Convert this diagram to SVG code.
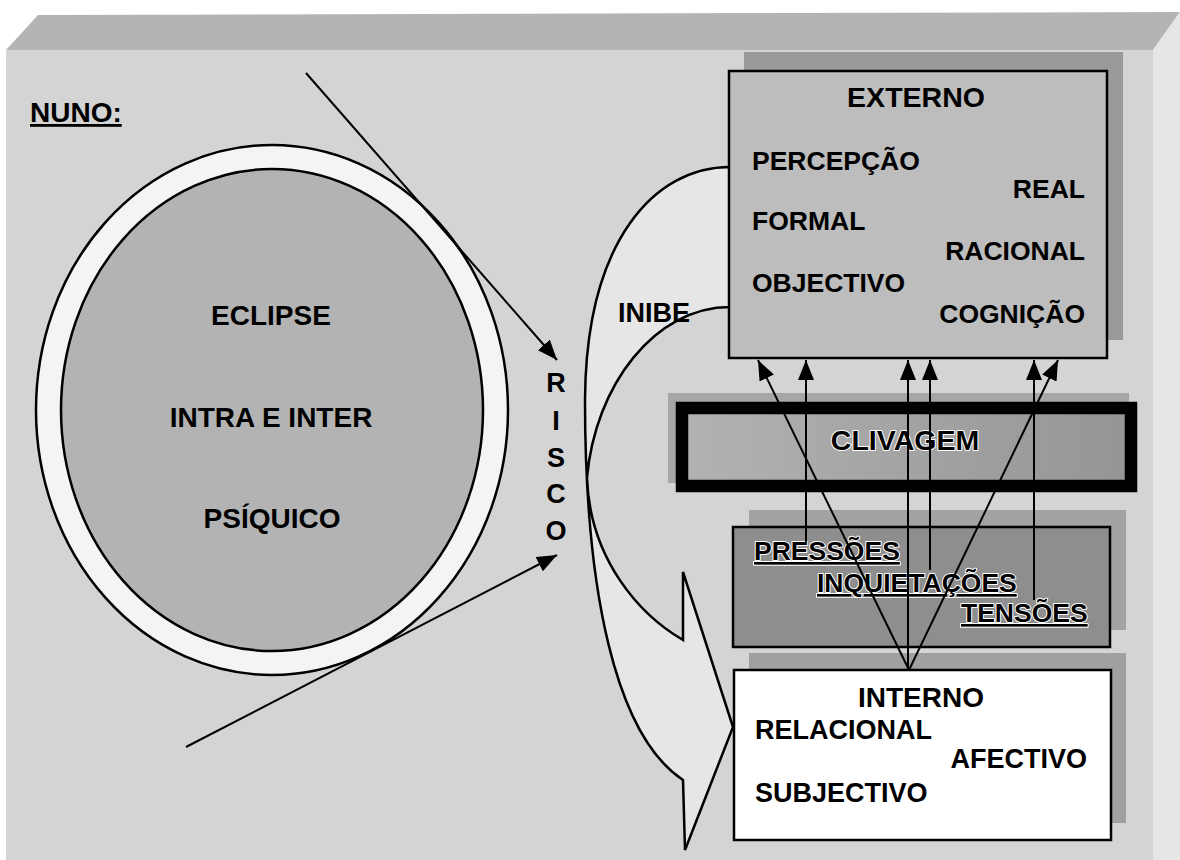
<svg xmlns="http://www.w3.org/2000/svg" width="1180" height="860" viewBox="0 0 1180 860">
<style>
.t{font-family:"Liberation Sans",Arial,sans-serif;font-weight:bold;fill:#000}
.s{stroke:#000;stroke-width:2.5}
.ln{stroke:#000;stroke-width:2;fill:none}
.emb{stroke:#fff;stroke-width:2;paint-order:stroke;stroke-linejoin:round}
</style>
<defs>
<marker id="ah" markerUnits="userSpaceOnUse" markerWidth="20" markerHeight="16" refX="20" refY="8" orient="auto">
<path d="M0,0 L20,8 L0,16 Z" fill="#000"/>
</marker>
<linearGradient id="clg" x1="0" y1="0" x2="1" y2="0">
<stop offset="0" stop-color="#b2b2b2"/>
<stop offset="1" stop-color="#959595"/>
</linearGradient>
</defs>
<rect width="1180" height="860" fill="#fff"/>
<g id="slab">
<polygon points="6,50 38,15 1180,12 1153,50" fill="#b4b4b4"/>
<polygon points="1153,50 1180,12 1180,860 1153,860" fill="#e6e6e6"/>
<rect x="6" y="50" width="1147" height="810" fill="#d4d4d4"/>
</g>
<g id="title"><text class="t" x="30" y="122" font-size="28" text-decoration="underline">NUNO:</text></g>
<g id="eclipse">
<ellipse cx="272" cy="410" rx="236" ry="265" fill="#f4f4f4" class="s"/>
<ellipse cx="272" cy="410" rx="211" ry="241" fill="#b3b3b3" class="s"/>
<text class="t" x="271" y="325" font-size="28" text-anchor="middle">ECLIPSE</text>
<text class="t" x="271" y="427" font-size="28" text-anchor="middle">INTRA E INTER</text>
<text class="t" x="272" y="528" font-size="28" text-anchor="middle">PSÍQUICO</text>
</g>
<g id="risco">
<text class="t" font-size="27" text-anchor="middle"><tspan x="556" y="392">R</tspan><tspan x="556" y="430">I</tspan><tspan x="556" y="467">S</tspan><tspan x="556" y="503">C</tspan><tspan x="556" y="540">O</tspan></text>
</g>
<g id="inibe-arrow">
<path d="M730,167 C655,167 586,240 585,400 C585,590 615,735 683,780 L685,850 L733,727 L683,572 L683,640 C640,615 590,560 587,478 C595,385 655,307 730,307 Z" fill="#e6e6e6" stroke="#000" stroke-width="2.5" stroke-linejoin="miter"/>
<text class="t" x="618" y="322" font-size="27">INIBE</text>
</g>
<g id="externo">
<rect x="744" y="52" width="379" height="288" fill="#9a9a9a"/>
<rect x="729" y="71" width="378" height="287" fill="#bdbdbd" class="s"/>
<text class="t" x="916" y="107" font-size="28.5" text-anchor="middle">EXTERNO</text>
<text class="t" x="752" y="170" font-size="26.5">PERCEPÇÃO</text>
<text class="t" x="1085" y="198" font-size="26.5" text-anchor="end">REAL</text>
<text class="t" x="752" y="230" font-size="26.5">FORMAL</text>
<text class="t" x="1085" y="260" font-size="26.5" text-anchor="end">RACIONAL</text>
<text class="t" x="752" y="292" font-size="26.5">OBJECTIVO</text>
<text class="t" x="1085" y="323" font-size="26.5" text-anchor="end">COGNIÇÃO</text>
</g>
<g id="clivagem">
<rect x="668" y="393" width="461" height="90" fill="#a6a6a6"/>
<rect x="682" y="408" width="449" height="78" fill="url(#clg)" stroke="#000" stroke-width="12.5"/>
<text class="t emb" x="905" y="450" font-size="28.5" text-anchor="middle">CLIVAGEM</text>
</g>
<g id="pressoes">
<rect x="749" y="510" width="377" height="120" fill="#a3a3a3"/>
<rect x="733" y="527" width="377" height="120" fill="#8e8e8e" class="s"/>
<text class="t emb" x="754" y="560" font-size="26.5" text-decoration="underline">PRESSÕES</text>
<text class="t emb" x="817" y="592" font-size="26.5" text-decoration="underline">INQUIETAÇÕES</text>
<text class="t emb" x="961" y="622" font-size="26.5" text-decoration="underline">TENSÕES</text>
</g>
<g id="interno">
<rect x="749" y="653" width="377" height="170" fill="#a0a0a0"/>
<rect x="734" y="670" width="377" height="170" fill="#fff" class="s"/>
<text class="t" x="921" y="707" font-size="28" text-anchor="middle">INTERNO</text>
<text class="t" x="755" y="739" font-size="27">RELACIONAL</text>
<text class="t" x="1087" y="768" font-size="27" text-anchor="end">AFECTIVO</text>
<text class="t" x="755" y="802" font-size="27">SUBJECTIVO</text>
</g>
<g id="connectors">
<line x1="306" y1="73" x2="557" y2="360" class="ln" stroke-width="1.6" marker-end="url(#ah)"/>
<line x1="186" y1="747" x2="557" y2="555" class="ln" marker-end="url(#ah)"/>
<line x1="909" y1="670" x2="758" y2="360" class="ln" marker-end="url(#ah)"/>
<line x1="909" y1="670" x2="1058" y2="360" class="ln" marker-end="url(#ah)"/>
<line x1="908" y1="670" x2="908" y2="360" class="ln" marker-end="url(#ah)"/>
<line x1="806" y1="542" x2="806" y2="360" class="ln" marker-end="url(#ah)"/>
<line x1="930" y1="570" x2="930" y2="360" class="ln" marker-end="url(#ah)"/>
<line x1="1034" y1="600" x2="1034" y2="360" class="ln" marker-end="url(#ah)"/>
</g>
</svg>
